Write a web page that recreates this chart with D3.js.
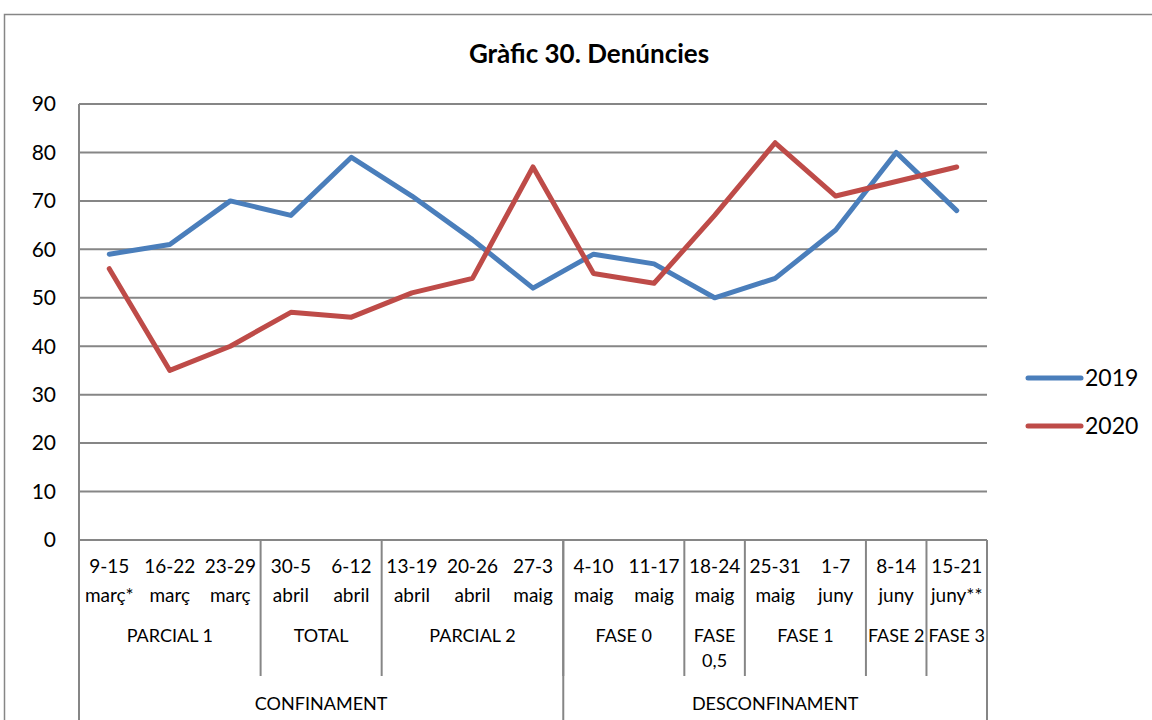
<!DOCTYPE html>
<html>
<head>
<meta charset="utf-8">
<script src="https://cdn.jsdelivr.net/npm/d3@7"></script>
<style>
  body { margin: 0; background: #fff; }
  svg { display: block; font-family: Lato, "Open Sans", sans-serif; }
</style>
</head>
<body>
<div id="chart"></div>
<script>
// week labels (two lines each)
const weekTop = ["9-15", "16-22", "23-29", "30-5", "6-12", "13-19", "20-26", "27-3",
                 "4-10", "11-17", "18-24", "25-31", "1-7", "8-14", "15-21"];
const weekBottom = ["març*", "març", "març", "abril", "abril", "abril", "abril", "maig",
                    "maig", "maig", "maig", "maig", "juny", "juny", "juny**"];
const phaseLabels = [["PARCIAL 1"], ["TOTAL"], ["PARCIAL 2"], ["FASE 0"], ["FASE", "0,5"], ["FASE 1"], ["FASE 2"], ["FASE 3"]];
const phaseSpans = [3, 2, 3, 2, 1, 2, 1, 1];
const periodLabels = ["CONFINAMENT", "DESCONFINAMENT"];
const periodSpans = [8, 7];
const values2019 = [59, 61, 70, 67, 79, 71, 62, 52, 59, 57, 50, 54, 64, 80, 68];
const values2020 = [56, 35, 40, 47, 46, 51, 54, 77, 55, 53, 67, 82, 71, 74, 77];
const yTicks = [0, 10, 20, 30, 40, 50, 60, 70, 80, 90];
const seriesNames = ["2019", "2020"];
const seriesColors = ["#4a7ebb", "#be4b48"];

const width = 1152, height = 720;
const plot = {left: 79, right: 987, top: 104, bottom: 540};

const svg = d3.select("#chart").append("svg")
    .attr("width", width)
    .attr("height", height);

// outer chart border
svg.append("rect")
    .attr("x", 4.5).attr("y", 14.5)
    .attr("width", 1160).attr("height", 720)
    .style("fill", "none")
    .style("stroke", "#868686")
    .style("stroke-width", 1.5);

svg.append("text")
    .attr("x", 589).attr("y", 63)
    .attr("text-anchor", "middle")
    .style("font-size", "26px")
    .style("font-weight", "bold")
    .text("Gràfic 30. Denúncies");

let x = d3.scaleBand()
    .domain(d3.range(weekTop.length))
    .range([plot.left, plot.right]);

let y = d3.scaleLinear()
    .domain([0, 90])
    .range([plot.bottom, plot.top]);

// gridlines
svg.selectAll(".grid")
    .data(yTicks)
  .enter().append("line")
    .attr("class", "grid")
    .attr("x1", plot.left).attr("x2", plot.right)
    .attr("y1", d => y(d)).attr("y2", d => y(d))
    .style("stroke", "#868686")
    .style("stroke-width", 2);

svg.selectAll(".ylab")
    .data(yTicks)
  .enter().append("text")
    .attr("class", "ylab")
    .attr("x", 56)
    .attr("y", d => y(d))
    .attr("dy", "0.35em")
    .attr("text-anchor", "end")
    .style("font-size", "21px")
    .text(d => d);

// y axis line runs down through the category area
svg.append("line")
    .attr("x1", plot.left).attr("x2", plot.left)
    .attr("y1", plot.top).attr("y2", height)
    .style("stroke", "#868686")
    .style("stroke-width", 2);

// week labels
let weeks = svg.selectAll(".week")
    .data(weekTop)
  .enter().append("g")
    .attr("class", "week")
    .attr("transform", (d, i) => "translate(" + (x(i) + x.bandwidth() / 2) + ",0)")
    .style("font-size", "19px")
    .attr("text-anchor", "middle");
weeks.append("text").attr("y", 573).text(d => d);
weeks.append("text").attr("y", 602).text((d, i) => weekBottom[i]);

// phase groups
let start = 0;
phaseSpans.forEach((n, k) => {
    let x0 = x(start), x1 = x(start + n - 1) + x.bandwidth();
    let g = svg.append("g").style("font-size", "18px").attr("text-anchor", "middle");
    phaseLabels[k].forEach((t, j) => {
        g.append("text")
            .attr("x", (x0 + x1) / 2)
            .attr("y", 642 + j * 25)
            .text(t);
    });
    start += n;
    if (start < weekTop.length) {
        svg.append("line")
            .attr("x1", x1).attr("x2", x1)
            .attr("y1", plot.bottom).attr("y2", 676)
            .style("stroke", "#868686")
            .style("stroke-width", 2);
    }
});

// period groups
start = 0;
periodSpans.forEach((n, k) => {
    let x0 = x(start), x1 = x(start + n - 1) + x.bandwidth();
    svg.append("text")
        .attr("x", (x0 + x1) / 2)
        .attr("y", 710)
        .attr("text-anchor", "middle")
        .style("font-size", "18px")
        .text(periodLabels[k]);
    svg.append("line")
        .attr("x1", x1).attr("x2", x1)
        .attr("y1", plot.bottom).attr("y2", height)
        .style("stroke", "#868686")
        .style("stroke-width", 2);
    start += n;
});

// series lines
let line = d3.line()
    .x((d, i) => x(i) + x.bandwidth() / 2)
    .y(d => y(d));

[values2019, values2020].forEach((vals, k) => {
    svg.append("path")
        .datum(vals)
        .attr("d", line)
        .style("fill", "none")
        .style("stroke", seriesColors[k])
        .style("stroke-width", 5)
        .style("stroke-linejoin", "round")
        .style("stroke-linecap", "round");
});

// legend
let legend = svg.selectAll(".legend")
    .data(seriesNames)
  .enter().append("g")
    .attr("class", "legend")
    .attr("transform", (d, i) => "translate(1028," + (378 + i * 48) + ")");
legend.append("line")
    .attr("x1", 0).attr("x2", 53)
    .style("stroke", (d, i) => seriesColors[i])
    .style("stroke-width", 5)
    .style("stroke-linecap", "round");
legend.append("text")
    .attr("x", 57)
    .attr("dy", "0.35em")
    .style("font-size", "23px")
    .text(d => d);
</script>
</body>
</html>
